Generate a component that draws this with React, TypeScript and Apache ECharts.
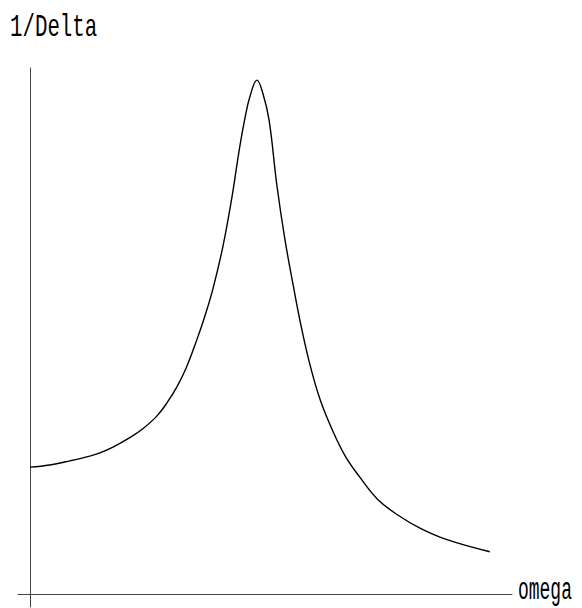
import React, { useEffect, useRef } from "react";
import * as echarts from "echarts";

const omega = [0.0, 0.41, 0.83, 1.24, 1.45, 1.72, 2.07, 2.34, 2.63, 2.84, 3.05, 3.25, 3.46, 3.63, 3.8, 4.0, 4.19, 4.34, 4.46, 4.56, 4.71, 4.83, 4.96, 5.12, 5.29, 5.46, 5.62, 5.81, 6.02, 6.27, 6.54, 6.85, 7.22, 7.63, 8.09, 8.65, 9.54];
const invDelta = [2.41, 2.45, 2.53, 2.62, 2.68, 2.79, 2.97, 3.14, 3.38, 3.63, 3.94, 4.32, 4.83, 5.29, 5.82, 6.6, 7.55, 8.44, 9.05, 9.45, 9.77, 9.52, 9.01, 7.78, 6.73, 5.87, 5.11, 4.35, 3.69, 3.12, 2.62, 2.21, 1.79, 1.5, 1.25, 1.03, 0.8];

const yLabel = "1/Delta";
const xLabel = "omega";

export default function App() {
  const ref = useRef<HTMLDivElement>(null);
  useEffect(() => {
    if (!ref.current) return;
    const chart = echarts.init(ref.current, null, { renderer: "svg" });
    const axisCommon = {
      type: "value" as const,
      min: -0.25,
      max: 10,
      axisLine: { show: true, onZero: true, lineStyle: { color: "#444", width: 1 } },
      axisTick: { show: false },
      axisLabel: { show: false },
      splitLine: { show: false },
    };
    chart.setOption({
      animation: false,
      backgroundColor: "#fff",
      grid: { left: 18, top: 68, width: 494, height: 539 },
      xAxis: { ...axisCommon },
      yAxis: { ...axisCommon },
      series: [
        {
          type: "line",
          data: omega.map((x, i) => [x, invDelta[i]]),
          smooth: 0.4,
          showSymbol: false,
          lineStyle: { color: "#000", width: 1.4 },
        },
      ],
      graphic: [
        {
          type: "text",
          x: 10,
          y: 43.5,
          scaleX: 0.67,
          style: {
            text: yLabel,
            fontFamily: "Liberation Mono",
            fontSize: 31,
            fill: "#000",
            textVerticalAlign: "bottom",
          },
        },
        {
          type: "text",
          x: 518,
          y: 607,
          scaleX: 0.58,
          style: {
            text: xLabel,
            fontFamily: "Liberation Mono",
            fontSize: 31,
            fill: "#000",
            textVerticalAlign: "bottom",
          },
        },
      ],
    });
    return () => chart.dispose();
  }, []);
  return <div ref={ref} style={{ width: 582, height: 608, position: "absolute", left: 0, top: 0 }} />;
}
